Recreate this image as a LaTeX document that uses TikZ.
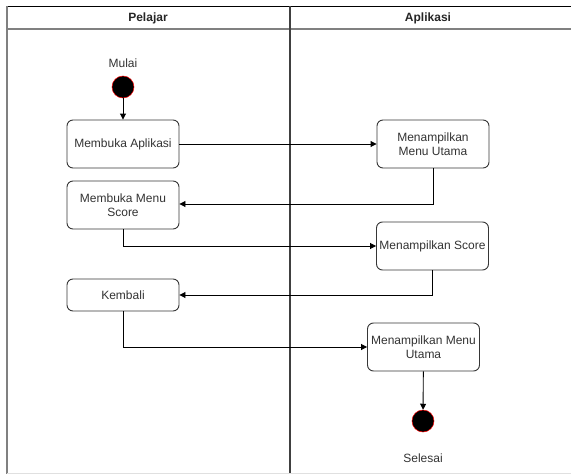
\documentclass[tikz,border=0pt]{standalone}
\usepackage{fontspec}
\setmainfont{Liberation Sans}
\usetikzlibrary{arrows.meta}
\definecolor{txt}{HTML}{333333}
\definecolor{edge}{HTML}{363636}
\tikzset{
  act/.style={draw=edge, line width=0.9pt, rounded corners=6pt, fill=white,
    minimum width=112pt, minimum height=48pt, align=center, text=txt,
    font=\fontsize{12}{14.5}\selectfont, inner sep=1pt},
  flow/.style={draw=black, line width=0.9pt, -{Triangle[length=6pt,width=6pt]}},
  dot/.style={circle, fill=black, draw=red, line width=0.5pt, minimum size=22pt, inner sep=0pt},
  lbl/.style={text=txt, font=\fontsize{12}{14.5}\selectfont},
  head/.style={text=black!85, font=\fontsize{12}{14.5}\selectfont\bfseries}
}
\begin{document}
\begin{tikzpicture}[x=1pt, y=-1pt]
  \useasboundingbox (0,0) rectangle (571,474);
  % swimlane frame
  \draw[black, line width=1pt] (7,6) -- (571,6);
  \draw[gray, line width=1.5pt] (7,29) -- (571,29);
  \draw[gray, line width=2pt] (7,6) -- (7,474);
  \draw[black!75, line width=2pt] (290,6) -- (290,474);
  \draw[black!12, line width=0.8pt] (7,473) -- (571,473);
  \node[head] (lane1) at (148,18) {Pelajar};
  \node[head] (lane2) at (428,18) {Aplikasi};

  % start and end
  \node[lbl] (mulai) at (123,63) {Mulai};
  \node[dot] (start) at (123,87) {};
  \node[dot] (stop) at (423,421) {};
  \node[lbl] (selesai) at (423,458) {Selesai};

  % actions
  \node[act] (a1) at (123,144) {Membuka Aplikasi};
  \node[act] (a2) at (123,205) {Membuka Menu\\Score};
  \node[act, minimum height=32pt] (a3) at (123,295) {Kembali};
  \node[act] (b1) at (433,144) {Menampilkan\\Menu Utama};
  \node[act] (b2) at (432.5,246) {Menampilkan Score};
  \node[act] (b3) at (423.5,347) {Menampilkan Menu\\Utama};

  % flows
  \draw[flow] (start) -- (a1);
  \draw[flow] (a1) -- (b1);
  \draw[flow] (b1.south) |- (a2.east |- 0,204);
  \draw[flow] (a2.south) |- (b2.west);
  \draw[flow] (b2.south) |- (a3.east);
  \draw[flow] (a3.south) |- (b3.west);
  \draw[flow] (b3) -- (stop);
\end{tikzpicture}
\end{document}
